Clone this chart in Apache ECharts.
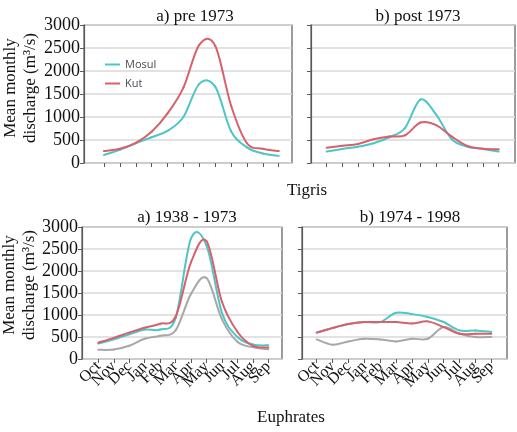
<!DOCTYPE html>
<html>
<head>
<meta charset="utf-8">
<script src="https://cdn.jsdelivr.net/npm/echarts@6/dist/echarts.min.js"></script>
<style>
  html, body { margin: 0; padding: 0; background: #fff; }
  #chart { width: 517px; height: 432px; }
</style>
</head>
<body>
<div id="chart"></div>
<script>
var months = ['Oct', 'Nov', 'Dec', 'Jan', 'Feb', 'Mar', 'Apr', 'May', 'Jun', 'Jul', 'Aug', 'Sep'];

// Tigris
var mosulPre = [175, 285, 430, 560, 700, 1000, 1720, 1660, 690, 340, 205, 155];
var kutPre = [260, 310, 440, 680, 1080, 1640, 2570, 2550, 1250, 430, 310, 260];
var mosulPost = [250, 305, 355, 430, 560, 760, 1380, 1050, 515, 355, 305, 250];
var kutPost = [330, 375, 415, 515, 575, 600, 880, 825, 575, 370, 310, 300];

// Euphrates
var cyanPre = [350, 450, 560, 670, 670, 930, 2740, 2580, 1050, 500, 330, 310];
var redPre = [370, 480, 600, 710, 800, 960, 2200, 2680, 1300, 620, 300, 260];
var grayPre = [210, 215, 300, 460, 530, 650, 1480, 1840, 900, 390, 270, 220];
var cyanPost = [600, 705, 795, 840, 840, 1050, 1020, 955, 840, 650, 650, 615];
var redPost = [600, 705, 795, 840, 840, 840, 805, 855, 725, 575, 575, 575];
var grayPost = [445, 325, 400, 460, 445, 400, 460, 460, 725, 575, 500, 500];

var yMin = 0, yMax = 3000, yStep = 500;

var CYAN = '#4cc6c6';
var RED = '#d9606a';
var GRAY = '#a8a8a8';
var SERIF = '"Liberation Serif", "DejaVu Serif", serif';

// outer box (frame + gridlines) and inner box (where the months sit)
var panels = [
    { outer: [84, 25, 208, 138], inner: [104, 278.7], labels: true, months: false },
    { outer: [311, 25, 204, 138], inner: [326.7, 498.7], labels: false, months: false },
    { outer: [82, 227, 200, 132], inner: [98.3, 268.3], labels: true, months: true },
    { outer: [302, 227, 205, 132], inner: [316.7, 491.3], labels: false, months: true }
];

var grids = [], xAxes = [], yAxes = [];
panels.forEach(function(p, i) {
    grids.push({
        left: p.outer[0], top: p.outer[1], width: p.outer[2], height: p.outer[3],
        show: true, borderColor: '#5a5a5a', borderWidth: 1.2, backgroundColor: 'transparent'
    });
    xAxes.push({ gridIndex: i * 2, type: 'value', show: false, min: 0, max: 1 });
    yAxes.push({
        gridIndex: i * 2, type: 'value', min: yMin, max: yMax, interval: yStep,
        axisLine: { show: true, lineStyle: { color: '#5a5a5a', width: 1.2 } },
        axisTick: { show: true, length: 4, lineStyle: { color: '#5a5a5a' } },
        axisLabel: {
            show: p.labels, color: '#111', fontFamily: SERIF, fontSize: 18, margin: 4,
            formatter: function(v) { return String(v); }
        },
        splitLine: { show: true, lineStyle: { color: '#d9d9d9', width: 1.5 } }
    });

    grids.push({
        left: p.inner[0], top: p.outer[1], width: p.inner[1] - p.inner[0], height: p.outer[3]
    });
    xAxes.push({
        gridIndex: i * 2 + 1, type: 'category', data: months, boundaryGap: false,
        axisLine: { show: false },
        axisTick: { show: true, length: 4, interval: 0, lineStyle: { color: '#5a5a5a' } },
        axisLabel: {
            show: p.months, interval: 0, rotate: 45, margin: 5,
            color: '#111', fontFamily: SERIF, fontSize: 16
        }
    });
    yAxes.push({ gridIndex: i * 2 + 1, type: 'value', min: yMin, max: yMax, show: false });
});

// spreadsheet-style smoothed line: one catmull-rom segment per month
function line(name, panel, values, color) {
    return {
        name: name, type: 'custom',
        xAxisIndex: panel * 2 + 1, yAxisIndex: panel * 2 + 1,
        itemStyle: { color: color },
        data: values.map(function(v, i) { return [i, v]; }),
        renderItem: function(params, api) {
            var i = params.dataIndex;
            var n = values.length;
            if (i >= n - 1) return null;
            var pt = function(k) {
                k = Math.max(0, Math.min(n - 1, k));
                return api.coord([k, values[k]]);
            };
            var p0 = pt(i - 1), p1 = pt(i), p2 = pt(i + 1), p3 = pt(i + 2);
            return {
                type: 'bezierCurve',
                shape: {
                    x1: p1[0], y1: p1[1], x2: p2[0], y2: p2[1],
                    cpx1: p1[0] + (p2[0] - p0[0]) / 6, cpy1: p1[1] + (p2[1] - p0[1]) / 6,
                    cpx2: p2[0] - (p3[0] - p1[0]) / 6, cpy2: p2[1] - (p3[1] - p1[1]) / 6
                },
                style: { stroke: color, lineWidth: 2, fill: null, lineCap: 'round' }
            };
        }
    };
}

var myChart = echarts.init(document.getElementById('chart'));
myChart.setOption({
    animation: false,
    textStyle: { fontFamily: SERIF },
    title: [
        { text: 'a) pre 1973', left: 190, top: 3, textAlign: 'center' },
        { text: 'b) post 1973', left: 413, top: 3, textAlign: 'center' },
        { text: 'Tigris', left: 302, top: 177, textAlign: 'center' },
        { text: 'a) 1938 - 1973', left: 182, top: 204, textAlign: 'center' },
        { text: 'b) 1974 - 1998', left: 405, top: 204, textAlign: 'center' },
        { text: 'Euphrates', left: 286, top: 404, textAlign: 'center' }
    ].map(function(t) {
        t.textStyle = { fontFamily: SERIF, fontSize: 17, fontWeight: 'normal', color: '#111' };
        return t;
    }),
    legend: {
        data: ['Mosul', 'Kut'], orient: 'vertical', left: 100, top: 54,
        icon: 'rect', itemWidth: 15, itemHeight: 2, itemGap: 8,
        textStyle: { fontFamily: '"Open Sans", sans-serif', fontSize: 11, color: '#4a4a55' }
    },
    graphic: [
        { type: 'text', x: 21, y: 88, rotation: Math.PI / 2,
          style: { text: 'Mean monthly\ndischarge (m³/s)', font: '17px ' + SERIF, fill: '#111',
                   align: 'center', verticalAlign: 'middle', lineHeight: 20 } },
        { type: 'text', x: 20, y: 285, rotation: Math.PI / 2,
          style: { text: 'Mean monthly\ndischarge (m³/s)', font: '17px ' + SERIF, fill: '#111',
                   align: 'center', verticalAlign: 'middle', lineHeight: 20 } }
    ],
    grid: grids,
    xAxis: xAxes,
    yAxis: yAxes,
    series: [
        line('Mosul', 0, mosulPre, CYAN),
        line('Kut', 0, kutPre, RED),
        line('Mosul', 1, mosulPost, CYAN),
        line('Kut', 1, kutPost, RED),
        line('Euphrates 1', 2, grayPre, GRAY),
        line('Euphrates 2', 2, cyanPre, CYAN),
        line('Euphrates 3', 2, redPre, RED),
        line('Euphrates 1', 3, grayPost, GRAY),
        line('Euphrates 2', 3, cyanPost, CYAN),
        line('Euphrates 3', 3, redPost, RED)
    ]
});
</script>
</body>
</html>
